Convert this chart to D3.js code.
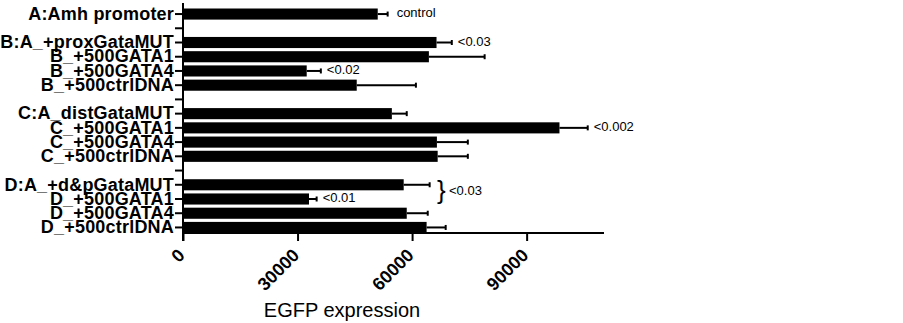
<!DOCTYPE html>
<html><head><meta charset="utf-8">
<script src="https://cdn.jsdelivr.net/npm/d3@7"></script>
<style>
body{margin:0;background:#fff;}
svg{display:block;}
</style></head>
<body><svg id="chart" width="903" height="323"></svg>
<script>
const categories = ["A:Amh promoter","", "B:A_+proxGataMUT","B_+500GATA1","B_+500GATA4","B_+500ctrlDNA","",
  "C:A_distGataMUT","C_+500GATA1","C_+500GATA4","C_+500ctrlDNA","",
  "D:A_+d&pGataMUT","D_+500GATA1","D_+500GATA4","D_+500ctrlDNA"];
const means = [51000,null,66400,64400,32400,45500,null,54700,98600,66500,66700,null,57800,33000,58600,63800];
const errors = [2600,null,4000,14600,3700,15500,null,3900,7400,8100,7900,null,6800,2000,5500,5000];
const xTicks = [0,30000,60000,90000];
const annotations = [
  {row:0, text:"control"},
  {row:2, text:"<0.03"},
  {row:4, text:"<0.02"},
  {row:8, text:"<0.002"},
  {row:13, text:"<0.01"}
];
const bracketRows = [12,13];
const bracketText = "<0.03";

const svg = d3.select("#chart");
const x = d3.scaleLinear().domain([0,110000]).range([183,603]);
const y = d3.scaleBand().domain(d3.range(categories.length)).range([8.5,233]).paddingInner(0.22).paddingOuter(0);
const bw = y.bandwidth();

// bars
svg.append("g").selectAll("rect").data(means.map((m,i)=>({m,i})).filter(d=>d.m!==null))
  .join("rect")
  .attr("x", x(0)).attr("y", d=>y(d.i))
  .attr("width", d=>x(d.m)-x(0)).attr("height", bw)
  .attr("fill","#000");

// error bars (one-sided)
const eb = svg.append("g").attr("stroke","#000").attr("stroke-width",2);
means.forEach((m,i)=>{
  if(m===null) return;
  const cy = y(i)+bw/2;
  eb.append("line").attr("x1",x(m)).attr("x2",x(m+errors[i])).attr("y1",cy).attr("y2",cy);
  eb.append("line").attr("x1",x(m+errors[i])).attr("x2",x(m+errors[i])).attr("y1",cy-2.5).attr("y2",cy+2.5);
});

// y axis
const yAxis = d3.axisLeft(y).tickSize(8).tickPadding(1).tickFormat(i=>categories[i]);
const gy = svg.append("g").attr("transform","translate(183,0)").call(yAxis);
gy.select(".domain").remove();
gy.selectAll(".tick line").attr("stroke","#000").attr("stroke-width",2);
gy.selectAll(".tick text").attr("font-family","'Liberation Sans', Arial, sans-serif")
  .attr("font-weight","bold").attr("font-size","18px").attr("letter-spacing","0.2px").attr("fill","#000");
gy.append("line").attr("x1",0).attr("x2",0).attr("y1",3).attr("y2",241).attr("stroke","#000").attr("stroke-width",2);

// x axis
const xAxis = d3.axisBottom(x).tickValues(xTicks).tickSize(8).tickFormat(d3.format("d"));
const gx = svg.append("g").attr("transform","translate(0,233)").call(xAxis);
gx.select(".domain").remove();
gx.append("line").attr("x1",182).attr("x2",604).attr("y1",0).attr("y2",0).attr("stroke","#000").attr("stroke-width",2);
gx.selectAll(".tick line").attr("stroke","#000").attr("stroke-width",2);
gx.selectAll(".tick text")
  .attr("font-family","'Liberation Sans', Arial, sans-serif").attr("font-weight","bold").attr("font-size","18px")
  .attr("fill","#000").attr("text-anchor","end").attr("dy",null).attr("y",0).attr("x",0)
  .attr("transform","translate(-1,20) rotate(-45)").attr("dominant-baseline","middle");

// axis title
svg.append("text").attr("x",342).attr("y",317).attr("text-anchor","middle")
  .attr("font-family","'Liberation Sans', Arial, sans-serif").attr("font-size","20px").attr("fill","#000")
  .text("EGFP expression");

// annotations
annotations.forEach(a=>{
  const m = means[a.row], e = errors[a.row];
  svg.append("text").attr("x", x(m+e)+ (a.row===0?9:6)).attr("y", y(a.row)+bw/2)
    .attr("dominant-baseline","middle")
    .attr("font-family","'Liberation Sans', Arial, sans-serif").attr("font-size","13px").attr("fill","#000")
    .text(a.text);
});
const by = (y(bracketRows[0])+y(bracketRows[1])+bw)/2;
svg.append("text").attr("x", 437).attr("y", by).attr("dominant-baseline","middle")
  .attr("font-family","'Liberation Sans', Arial, sans-serif").attr("font-size","26px").attr("fill","#000")
  .text("}");
svg.append("text").attr("x", 449).attr("y", by).attr("dominant-baseline","middle")
  .attr("font-family","'Liberation Sans', Arial, sans-serif").attr("font-size","13px").attr("fill","#000")
  .text(bracketText);
</script></body></html>
